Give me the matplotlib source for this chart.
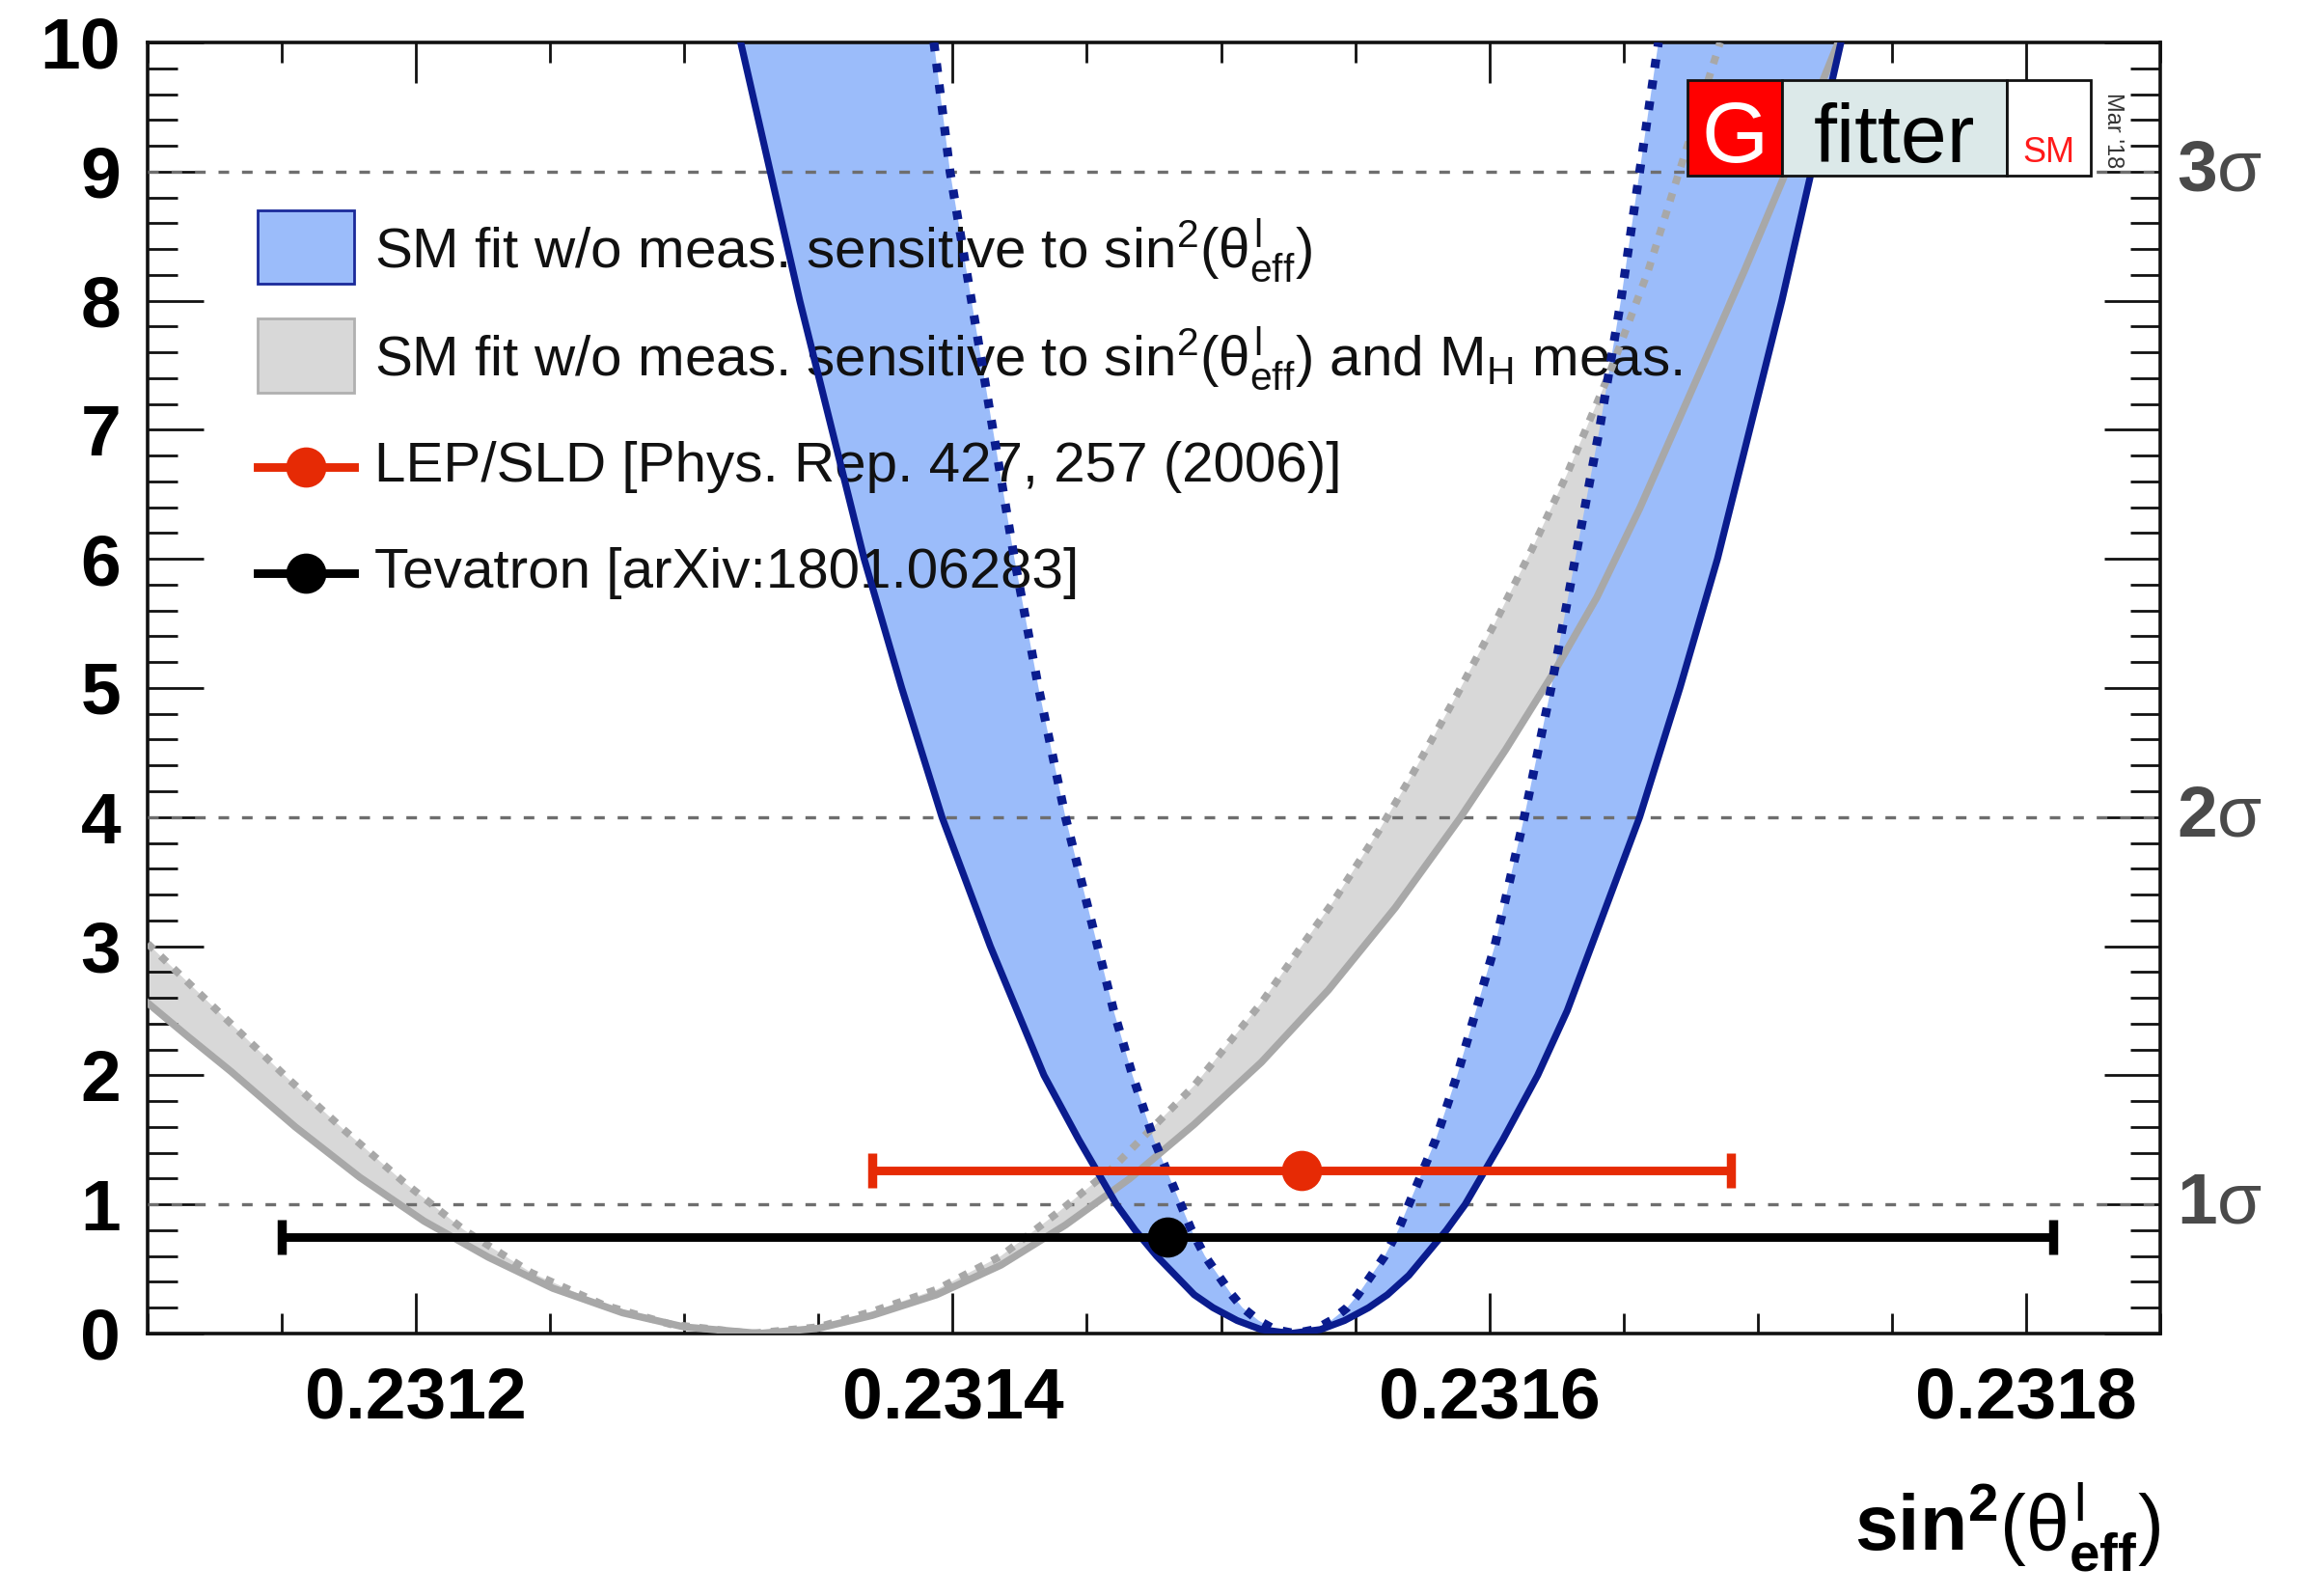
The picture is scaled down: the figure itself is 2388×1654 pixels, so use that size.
import numpy as np
import matplotlib
matplotlib.use("Agg")
import matplotlib.pyplot as plt
from matplotlib.patches import Rectangle
from matplotlib.ticker import MultipleLocator, FixedLocator, FixedFormatter

plt.rcParams['font.family'] = 'Liberation Sans'
plt.rcParams['mathtext.fontset'] = 'custom'
plt.rcParams['mathtext.rm'] = 'Liberation Sans'
plt.rcParams['mathtext.it'] = 'Liberation Sans'
plt.rcParams['mathtext.bf'] = 'Liberation Sans:bold'

# SM fit w/o sin2 measurements: outer (solid) and inner (dotted) delta chi2 curves
blue_outer_x = [0.231321, 0.231332, 0.231343, 0.231355, 0.231367, 0.231381, 0.231396, 0.231414,
                0.231424, 0.231434, 0.231447, 0.231461, 0.231468, 0.231476, 0.231483, 0.231490,
                0.231497, 0.231506, 0.231515, 0.231526,
                0.231537, 0.231546, 0.231555, 0.231562, 0.231570, 0.231576, 0.231584, 0.231591,
                0.231605, 0.231618, 0.231629,
                0.231638, 0.231656, 0.231671, 0.231685, 0.231697, 0.231709, 0.231720, 0.231731]
blue_outer_y = [10.0, 9.0, 8.0, 7.0, 6.0, 5.0, 4.0, 3.0,
                2.5, 2.0, 1.5, 1.0, 0.8, 0.6, 0.45, 0.3,
                0.2, 0.1, 0.03, 0.0,
                0.03, 0.1, 0.2, 0.3, 0.45, 0.6, 0.8, 1.0,
                1.5, 2.0, 2.5,
                3.0, 4.0, 5.0, 6.0, 7.0, 8.0, 9.0, 10.0]

blue_inner_x = [0.231393, 0.231399, 0.231407, 0.231415, 0.231423, 0.231432, 0.231442, 0.231454,
                0.231460, 0.231467, 0.231475, 0.231485, 0.231489, 0.231494, 0.231499, 0.231504,
                0.231508, 0.231514, 0.231520, 0.2315275,
                0.231535, 0.231541, 0.231547, 0.231551, 0.231556, 0.231561, 0.231566, 0.231570,
                0.231580, 0.231588, 0.231595,
                0.231602, 0.231613, 0.231623, 0.231632, 0.231641, 0.231649, 0.231656, 0.231663]
blue_inner_y = [10.0, 9.0, 8.0, 7.0, 6.0, 5.0, 4.0, 3.0,
                2.5, 2.0, 1.5, 1.0, 0.8, 0.6, 0.45, 0.3,
                0.2, 0.1, 0.03, 0.0,
                0.03, 0.1, 0.2, 0.3, 0.45, 0.6, 0.8, 1.0,
                1.5, 2.0, 2.5,
                3.0, 4.0, 5.0, 6.0, 7.0, 8.0, 9.0, 10.0]

# SM fit w/o sin2 and M_H measurements: solid and dashed curves
grey_outer_x = [0.231100, 0.231115, 0.231131, 0.231155, 0.231179, 0.231203, 0.231227, 0.231251,
                0.231277, 0.231300, 0.231328, 0.231350, 0.231370, 0.231394, 0.231418, 0.231442,
                0.231466, 0.231490, 0.231515, 0.231540, 0.231565, 0.231589, 0.231606, 0.231624,
                0.231640, 0.231656, 0.231677, 0.231695, 0.231710, 0.231730]
grey_outer_y = [2.56, 2.30, 2.03, 1.60, 1.21, 0.87, 0.59, 0.35,
                0.16, 0.05, 0.0, 0.04, 0.14, 0.30, 0.53, 0.84,
                1.20, 1.62, 2.10, 2.66, 3.30, 3.99, 4.52, 5.12,
                5.70, 6.39, 7.38, 8.23, 8.97, 10.0]

grey_inner_x = [0.231100, 0.231117, 0.231131, 0.231152, 0.231173, 0.231195, 0.231218, 0.231243,
                0.231270, 0.231295, 0.231325, 0.231350, 0.231370, 0.231394, 0.231418, 0.231440,
                0.231460, 0.231490, 0.231515, 0.231542, 0.231559, 0.231571, 0.231588, 0.231602,
                0.231616, 0.231629, 0.231645, 0.231659, 0.231670, 0.231686]
grey_inner_y = [3.02, 2.68, 2.40, 1.98, 1.58, 1.18, 0.80, 0.47,
                0.22, 0.07, 0.0, 0.05, 0.17, 0.34, 0.60, 0.95,
                1.29, 1.92, 2.56, 3.35, 3.90, 4.32, 4.95, 5.50,
                6.08, 6.66, 7.45, 8.22, 8.95, 10.0]

# direct measurements (value, error, drawn at a fixed delta chi2 height)
meas_names = ['LEP/SLD [Phys. Rep. 427, 257 (2006)]', 'Tevatron [arXiv:1801.06283]']
meas_val = [0.23153, 0.23148]
meas_err = [0.00016, 0.00033]
meas_chi2 = [1.26, 0.75]
meas_color = ['#e62a05', '#000000']

sigma_chi2 = [1, 4, 9]
sigma_labels = [r'1$\sigma$', r'2$\sigma$', r'3$\sigma$']

x_ticks = [0.2312, 0.2314, 0.2316, 0.2318]
x_tick_labels = ['0.2312', '0.2314', '0.2316', '0.2318']
y_ticks = list(range(0, 11))

BLUE_FILL = '#9bbcfa'
BLUE_LINE = '#0a1c8e'
GREY_FILL = '#d8d8d8'
GREY_LINE = '#a8a8a8'


def draw_bands(ax):
    ax.fill(np.concatenate([grey_outer_x, grey_inner_x[::-1]]),
            np.concatenate([grey_outer_y, grey_inner_y[::-1]]),
            color=GREY_FILL, lw=0, zorder=1)
    ax.fill(np.concatenate([blue_outer_x, blue_inner_x[::-1]]),
            np.concatenate([blue_outer_y, blue_inner_y[::-1]]),
            color=BLUE_FILL, lw=0, zorder=2)

    for lvl in sigma_chi2:
        ax.axhline(lvl, color='#6e6e6e', lw=1.2, dashes=(3.3, 4.0), zorder=3)

    ax.plot(grey_outer_x, grey_outer_y, color=GREY_LINE, lw=2.7, zorder=5)
    ax.plot(grey_inner_x, grey_inner_y, color=GREY_LINE, lw=2.8,
            dashes=(1.1, 1.3), dash_capstyle='butt', zorder=5)
    ax.plot(blue_outer_x, blue_outer_y, color=BLUE_LINE, lw=2.6, zorder=6)
    ax.plot(blue_inner_x, blue_inner_y, color=BLUE_LINE, lw=3.3,
            dashes=(1.0, 1.4), dash_capstyle='butt', zorder=6)


def draw_measurements(ax):
    for v, e, c, col in zip(meas_val, meas_err, meas_chi2, meas_color):
        ax.errorbar(v, c, xerr=e, fmt='o', color=col, ms=14, lw=3.2,
                    capsize=6.5, capthick=3.4, zorder=10)


def draw_legend(ax):
    tr = ax.transAxes
    ax.add_patch(Rectangle((0.0547, 0.8132), 0.0479, 0.0568, transform=tr,
                           facecolor=BLUE_FILL, edgecolor='#1a2a9a', lw=1.0, zorder=4))
    ax.add_patch(Rectangle((0.0547, 0.7287), 0.0479, 0.0575, transform=tr,
                           facecolor=GREY_FILL, edgecolor='#b0b0b0', lw=1.0, zorder=4))
    for ypos, col in zip([0.671, 0.589], meas_color):
        ax.plot([0.0547, 0.1026], [ypos, ypos], color=col, lw=3.2, transform=tr, zorder=4)
        ax.plot([0.0786], [ypos], 'o', color=col, ms=14, transform=tr, zorder=4)

    labels = [r'SM fit w/o meas. sensitive to sin$^{2}$($\theta^{l}_{\rm eff}$)',
              r'SM fit w/o meas. sensitive to sin$^{2}$($\theta^{l}_{\rm eff}$) and M$_{\rm H}$ meas.']
    labels += meas_names
    for lab, ypos in zip(labels, [0.839, 0.755, 0.671, 0.589]):
        ax.text(0.1127, ypos, lab, transform=tr, fontsize=21, va='center',
                ha='left', color='#111111', zorder=4)


def draw_logo(ax):
    tr = ax.transAxes
    y0, h = 0.8969, 0.0740
    ax.add_patch(Rectangle((0.7651, y0), 0.0470, h, transform=tr, facecolor='#ff0000',
                           edgecolor='#111111', lw=1.0, zorder=20, clip_on=False))
    ax.add_patch(Rectangle((0.8121, y0), 0.1117, h, transform=tr, facecolor='#dce9e9',
                           edgecolor='#111111', lw=1.0, zorder=20, clip_on=False))
    ax.add_patch(Rectangle((0.9238, y0), 0.0417, h, transform=tr, facecolor='white',
                           edgecolor='#111111', lw=1.0, zorder=20, clip_on=False))
    ax.text(0.7886, 0.9075, 'G', transform=tr, color='white', fontsize=32,
            ha='center', va='baseline', zorder=21)
    ax.text(0.8677, 0.9075, 'fitter', transform=tr, color='black', fontsize=31,
            ha='center', va='baseline', zorder=21)
    ax.text(0.9444, 0.9075, 'SM', transform=tr, color='#ff1a1a', fontsize=13,
            ha='center', va='baseline', zorder=21)
    ax.text(0.9765, 0.932, "Mar '18", transform=tr, color='#333333', fontsize=8.5,
            rotation=-90, ha='center', va='center', zorder=21)


def style_axes(ax):
    ax.set_xlim(0.2311, 0.23185)
    ax.set_ylim(0, 10)

    ax.xaxis.set_major_locator(FixedLocator(x_ticks))
    ax.xaxis.set_major_formatter(FixedFormatter(x_tick_labels))
    ax.xaxis.set_minor_locator(MultipleLocator(0.00005))
    ax.yaxis.set_major_locator(FixedLocator(y_ticks))
    ax.yaxis.set_minor_locator(MultipleLocator(0.2))

    ax.tick_params(which='both', direction='in', top=True, right=True, width=1.0,
                   color='#111111')
    ax.tick_params(axis='x', which='major', length=15, pad=12, labelsize=27)
    ax.tick_params(axis='x', which='minor', length=7.5)
    ax.tick_params(axis='y', which='major', length=21, pad=10, labelsize=27)
    ax.tick_params(axis='y', which='minor', length=11)
    for lab in ax.get_xticklabels() + ax.get_yticklabels():
        lab.set_fontweight('bold')
    for sp in ax.spines.values():
        sp.set_linewidth(1.3)
        sp.set_color('#111111')

    for lvl, lab in zip(sigma_chi2, sigma_labels):
        ax.text(1.008, lvl, lab, transform=ax.get_yaxis_transform(), fontsize=27,
                fontweight='bold', color='#4a4a4a', ha='left', va='center')

    ax.text(1.0, -0.168, r'$\mathbf{sin}^{\mathbf{2}}(\theta^{l}_{\mathbf{eff}})$',
            transform=ax.transAxes, fontsize=29, ha='right', va='baseline')


def main():
    fig = plt.figure(figsize=(11.94, 8.27), dpi=200)
    ax = fig.add_axes([0.0641, 0.1645, 0.8735, 0.8089])
    draw_bands(ax)
    draw_measurements(ax)
    draw_legend(ax)
    draw_logo(ax)
    style_axes(ax)
    fig.savefig('out.png', dpi=200, facecolor='white')


if __name__ == "__main__":
    main()
